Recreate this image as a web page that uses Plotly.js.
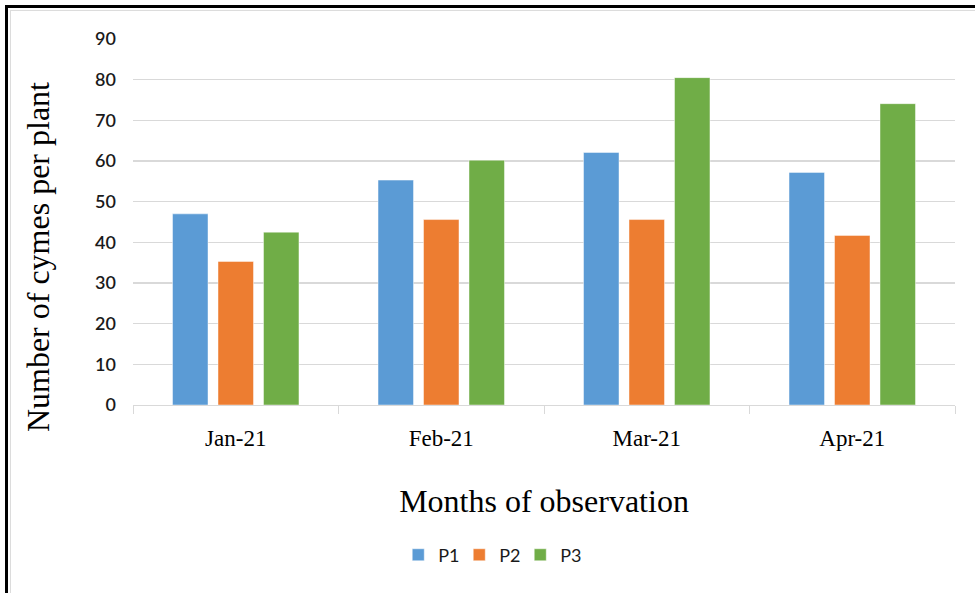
<!DOCTYPE html>
<html>
<head>
<meta charset="utf-8">
<script src="https://cdn.plot.ly/plotly-3.0.1.min.js"></script>
<style>
html,body{margin:0;padding:0;background:#fff;}
#wrap{position:relative;width:975px;height:593px;overflow:hidden;}
#chart{position:absolute;left:0;top:0;width:975px;height:593px;}
.b{position:absolute;pointer-events:none;z-index:5;}
</style>
</head>
<body>
<div id="wrap">
<div id="chart"></div>
<div class="b" style="left:5px;top:5px;width:975px;height:3px;background:#000;"></div>
<div class="b" style="left:5px;top:5px;width:3px;height:600px;background:#000;"></div>
<div class="b" style="left:10px;top:10px;width:975px;height:1px;background:#dcdcdc;"></div>
<div class="b" style="left:10px;top:10px;width:1px;height:600px;background:#dcdcdc;"></div>
</div>
<script>
const months = ["Jan-21", "Feb-21", "Mar-21", "Apr-21"];
const seriesNames = ["P1", "P2", "P3"];
const p1 = [47.0, 55.3, 62.1, 57.2];
const p2 = [35.3, 45.6, 45.6, 41.7];
const p3 = [42.5, 60.2, 80.5, 74.1];
const colors = ["#5B9BD5", "#ED7D31", "#70AD47"];
const yTicks = [0, 10, 20, 30, 40, 50, 60, 70, 80, 90];
const yTitle = "Number of cymes per plant";
const xTitle = "Months of observation";

const allVals = [p1, p2, p3];
const traces = allVals.map((vals, i) => ({
  type: "bar",
  name: seriesNames[i],
  x: months,
  y: vals,
  marker: {color: colors[i], line: {color: "rgba(255,255,255,0.45)", width: 1}},
  hoverinfo: "x+y+name"
}));

const layout = {
  width: 975,
  height: 593,
  margin: {l: 133, r: 20, t: 39, b: 188},
  paper_bgcolor: "#ffffff",
  plot_bgcolor: "#ffffff",
  barmode: "group",
  bargap: 0.336,
  bargroupgap: 0.22,
  showlegend: true,
  legend: {
    orientation: "h",
    x: 0.434, xanchor: "center",
    y: -0.41, yanchor: "middle",
    font: {family: "Lato, 'Liberation Sans', sans-serif", size: 18, color: "#1a1a1a"},
    entrywidth: 16,
    itemclick: false
  },
  xaxis: {
    type: "category",
    showline: true,
    linecolor: "#d9d9d9",
    linewidth: 1,
    ticks: "outside",
    tickson: "boundaries",
    ticklen: 8,
    tickcolor: "#d9d9d9",
    ticklabelstandoff: 12,
    showgrid: false,
    tickfont: {family: "'Liberation Serif', 'Times New Roman', serif", size: 23, color: "#000"},
    title: {
      text: xTitle,
      font: {family: "'Liberation Serif', 'Times New Roman', serif", size: 32, color: "#000"},
      standoff: 40
    }
  },
  yaxis: {
    range: [0, 90],
    tickvals: yTicks,
    ticktext: yTicks.map(String),
    showgrid: true,
    gridcolor: "#d9d9d9",
    gridwidth: 1.5,
    zeroline: false,
    showline: false,
    ticks: "",
    ticklabelstandoff: 16,
    tickfont: {family: "Lato, 'Liberation Sans', sans-serif", size: 18, color: "#1a1a1a", weight: 600},
    title: {text: ""}
  },
  annotations: [{
    text: yTitle,
    xref: "paper", yref: "paper",
    x: -0.1156, y: 0.404,
    xanchor: "center", yanchor: "middle",
    textangle: -90,
    showarrow: false,
    font: {family: "'Liberation Serif', 'Times New Roman', serif", size: 32, color: "#000"}
  }]
};

Plotly.newPlot("chart", traces, layout, {displayModeBar: false, staticPlot: true});
</script>
</body>
</html>
